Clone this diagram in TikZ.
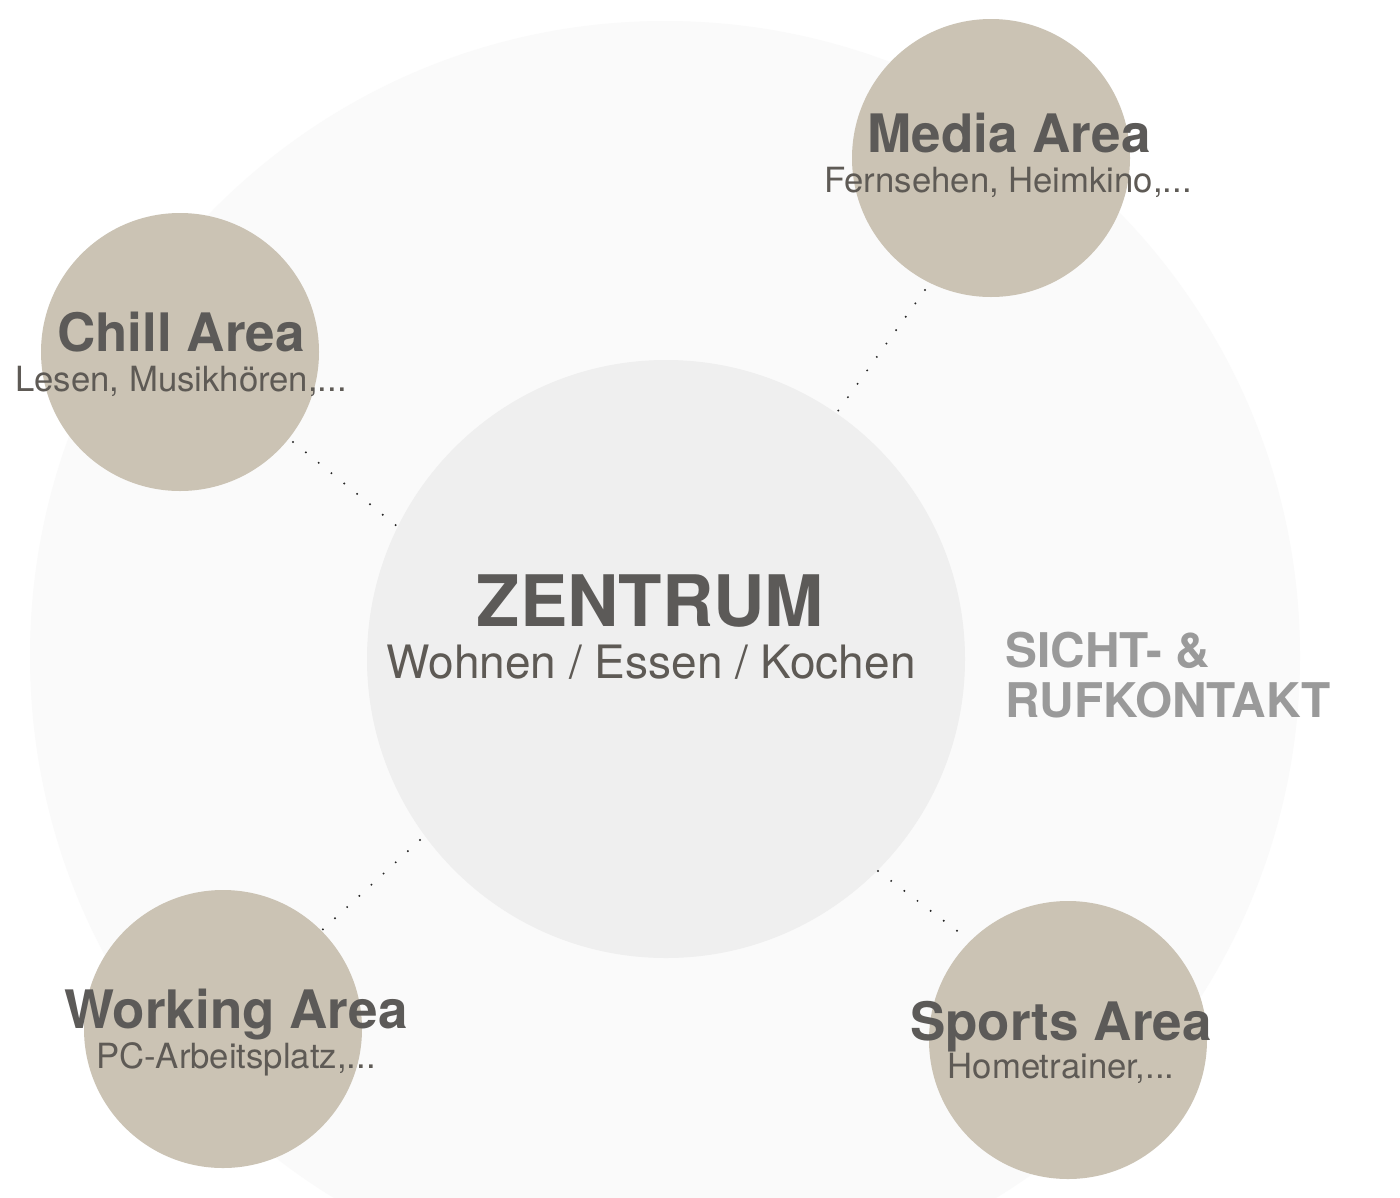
\documentclass[tikz,border=0pt]{standalone}
\usepackage{fontspec}
\setmainfont{TeX Gyre Heros}
\definecolor{tan}{HTML}{CBC3B4}
\definecolor{outerc}{HTML}{FAFAFA}
\definecolor{innerc}{HTML}{EFEFEF}
\definecolor{titlec}{HTML}{5C5A58}
\definecolor{subc}{HTML}{5E5A55}
\definecolor{contactc}{HTML}{9A9A9A}
\begin{document}
\begin{tikzpicture}[x=1pt,y=-1pt,
  area/.style={circle,fill=tan,draw=none,minimum size=278pt,inner sep=0pt},
  titletext/.style={anchor=base,text=titlec,font=\fontsize{53}{53}\selectfont\bfseries,inner sep=0pt},
  subtext/.style={anchor=base,text=subc,font=\fontsize{34.7}{34.7}\selectfont,inner sep=0pt},
  contacttext/.style={anchor=base west,text=contactc,font=\fontsize{47.8}{50}\selectfont\bfseries,inner sep=0pt},
  dotline/.style={draw=black!85,line width=2.2pt,line cap=round,dash pattern=on 0pt off 16.5pt}]
\useasboundingbox (0,0) rectangle (1400,1197);
\fill[white] (0,0) rectangle (1400,1197);
\begin{scope}
\clip (0,0) rectangle (1400,1197);
\node[circle,fill=outerc,minimum size=1270pt,inner sep=0pt] (outer) at (665,656) {};
\end{scope}
\node[circle,fill=innerc,minimum size=598pt,inner sep=0pt] (center) at (666,659) {};
\node[area] (media) at (991,158) {};
\node[area] (chill) at (180,352) {};
\node[area] (working) at (223,1029) {};
\node[area] (sports) at (1068,1040) {};
% connectors
\coordinate (c1a) at (293,442); \coordinate (c1b) at (398,527);
\coordinate (c2a) at (925,290); \coordinate (c2b) at (838,411);
\coordinate (c3a) at (420,840); \coordinate (c3b) at (320,932);
\coordinate (c4a) at (878,871); \coordinate (c4b) at (960,933);
\draw[dotline] (c1a) -- (c1b);
\draw[dotline] (c2a) -- (c2b);
\draw[dotline] (c3a) -- (c3b);
\draw[dotline] (c4a) -- (c4b);
% texts
\node[titletext] (mediat) at (1009,152) {Media Area};
\node[subtext] (medias) at (1008,192) {Fernsehen, Heimkino,...};
\node[titletext] (chillt) at (181,351) {Chill Area};
\node[subtext] (chills) at (181,391) {Lesen, Musikhören,...};
\node[titletext] (workt) at (236,1028) {Working Area};
\node[subtext] (works) at (236,1068) {PC-Arbeitsplatz,...};
\node[titletext] (sportt) at (1061,1040) {Sports Area};
\node[subtext] (sports2) at (1061,1078) {Hometrainer,...};
\node[anchor=base,text=titlec,font=\fontsize{71}{71}\selectfont\bfseries,inner sep=0pt] (zt) at (650,626) {ZENTRUM};
\node[anchor=base,text=subc,font=\fontsize{46}{46}\selectfont,inner sep=0pt] (zs) at (651,678) {Wohnen / Essen / Kochen};
\node[contacttext] (contact1) at (1005,667) {SICHT- \&};
\node[contacttext] (contact2) at (1005,717) {RUFKONTAKT};
\end{tikzpicture}
\end{document}
